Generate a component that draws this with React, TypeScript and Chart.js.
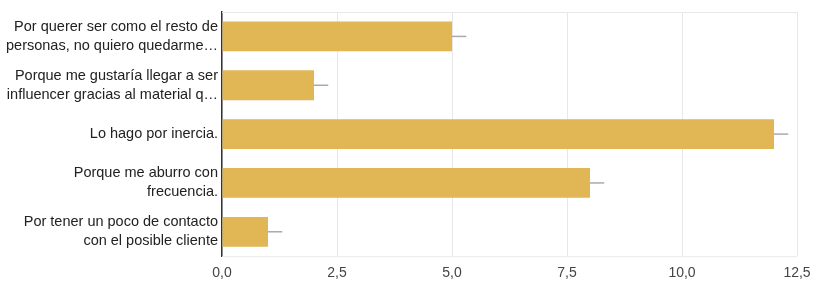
import React, { useEffect, useRef } from "react";
import { Chart, registerables } from "chart.js";
Chart.register(...registerables);

const categories: string[][] = [
  ["Por querer ser como el resto de", "personas, no quiero quedarme…"],
  ["Porque me gustaría llegar a ser", "influencer gracias al material q…"],
  ["Lo hago por inercia."],
  ["Porque me aburro con", "frecuencia."],
  ["Por tener un poco de contacto", "con el posible cliente"],
];
const values: number[] = [5, 2, 12, 8, 1];
const errors: number[] = [0.31, 0.31, 0.31, 0.31, 0.31];
const xTicks: number[] = [0, 2.5, 5, 7.5, 10, 12.5];

const errorBarPlugin = {
  id: "errorBars",
  afterDatasetsDraw(chart: any) {
    const ctx = chart.ctx;
    const meta = chart.getDatasetMeta(0);
    const xs = chart.scales.x;
    ctx.save();
    ctx.strokeStyle = "#aaaaaa";
    ctx.lineWidth = 1.5;
    meta.data.forEach((bar: any, i: number) => {
      const x0 = xs.getPixelForValue(values[i]);
      const x1 = xs.getPixelForValue(values[i] + errors[i]);
      ctx.beginPath();
      ctx.moveTo(x0, bar.y);
      ctx.lineTo(x1, bar.y);
      ctx.stroke();
    });
    ctx.restore();
  },
};

export default function App() {
  const ref = useRef<HTMLCanvasElement>(null);
  useEffect(() => {
    document.body.style.margin = "0";
    const chart = new Chart(ref.current!, {
      type: "bar",
      data: {
        labels: categories as any,
        datasets: [
          {
            data: values,
            backgroundColor: "#e1b655",
            borderWidth: 0,
            barPercentage: 0.61,
            categoryPercentage: 1,
          },
        ],
      },
      options: {
        indexAxis: "y",
        animation: false,
        responsive: false,
        layout: { padding: { top: 12, right: 23, left: 0, bottom: 0 } },
        plugins: { legend: { display: false }, tooltip: { enabled: false } },
        scales: {
          x: {
            min: 0,
            max: 12.5,
            afterBuildTicks: (axis: any) => {
              axis.ticks = xTicks.map((v) => ({ value: v }));
            },
            ticks: {
              color: "#444",
              font: { family: "Liberation Sans, Arial", size: 14 },
              padding: 9,
              callback: (v: any) => Number(v).toFixed(1).replace(".", ","),
            },
            grid: { color: "#e8e8e8", drawTicks: false },
            border: { display: false },
          },
          y: {
            ticks: {
              color: "#222",
              font: { family: "Liberation Sans, Arial", size: 14.5, lineHeight: 19 / 14.5 },
              padding: 4,
            },
            grid: { display: false, drawTicks: false },
            border: { display: true, color: "#333", width: 1.5 },
            afterFit: (axis: any) => {
              axis.width = 222;
              axis.paddingTop = 0;
              axis.paddingBottom = 0;
            },
          },
        },
      },
      plugins: [
        errorBarPlugin,
        {
          id: "topLine",
          beforeDatasetsDraw(chart: any) {
            const { ctx, chartArea } = chart;
            ctx.save();
            ctx.strokeStyle = "#e8e8e8";
            ctx.lineWidth = 1;
            ctx.beginPath();
            ctx.moveTo(chartArea.left, chartArea.top + 0.5);
            ctx.lineTo(chartArea.right, chartArea.top + 0.5);
            ctx.moveTo(chartArea.left, chartArea.bottom + 0.5);
            ctx.lineTo(chartArea.right, chartArea.bottom + 0.5);
            ctx.stroke();
            ctx.restore();
          },
        },
      ],
    });
    return () => chart.destroy();
  }, []);
  return (
    <div style={{ width: 820, height: 291 }}>
      <canvas ref={ref} width={820} height={291} />
    </div>
  );
}
